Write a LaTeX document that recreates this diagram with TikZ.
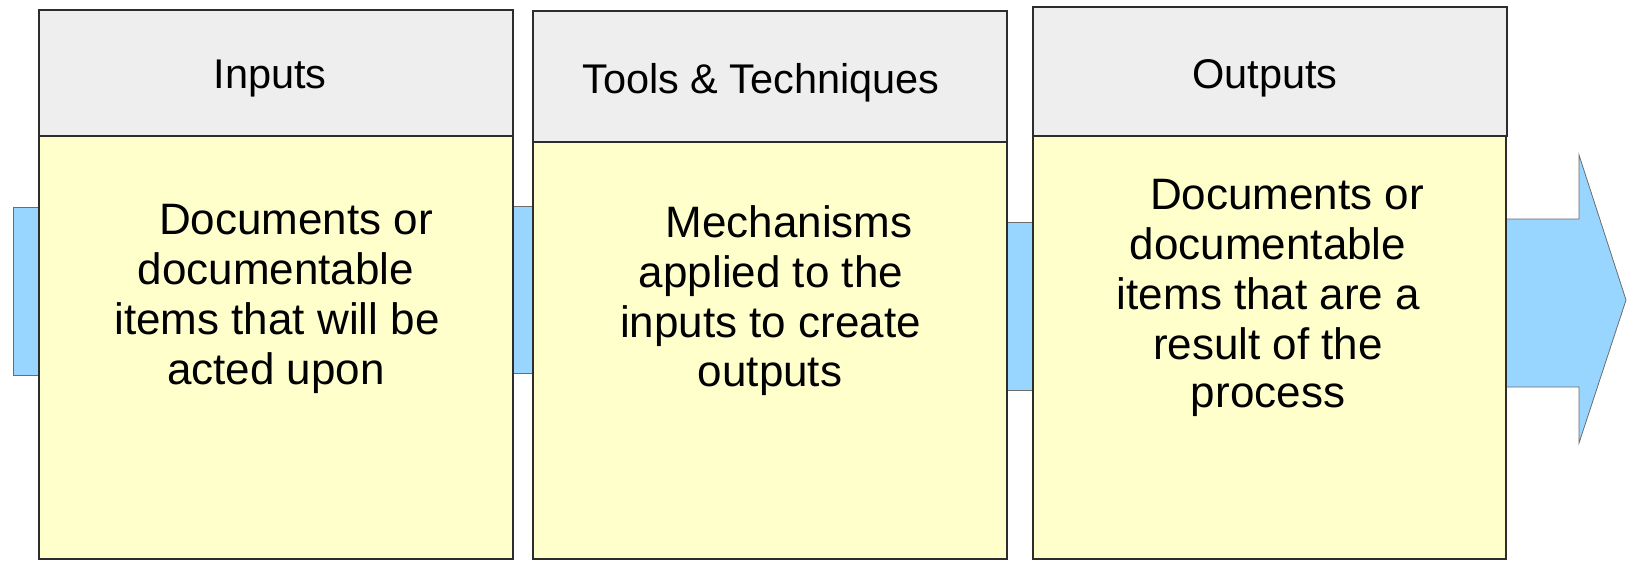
\documentclass[tikz,border=0pt]{standalone}
\usepackage{fontspec}
\setmainfont{Liberation Sans}
\definecolor{hdr}{RGB}{238,238,238}
\definecolor{bdy}{RGB}{255,255,204}
\definecolor{flow}{RGB}{153,214,255}
\definecolor{edge}{RGB}{45,45,45}
\begin{document}
\begin{tikzpicture}[x=1pt,y=-1pt,
  flowbar/.style={draw=edge!70,line width=0.8pt,fill=flow},
  hdrbox/.style={draw=edge,line width=1.2pt,fill=hdr},
  bodybox/.style={draw=edge,line width=1.2pt,fill=bdy},
  hdrtxt/.style={anchor=base,inner sep=0pt,font=\fontsize{41.5}{48}\selectfont},
  bodytxt/.style={anchor=base,inner sep=0pt,font=\fontsize{44}{50}\selectfont}]
\useasboundingbox (0,0) rectangle (1627,560);
% flow bars
\path[flowbar] (13,207) rectangle (60,375);
\path[flowbar] (490,206) rectangle (560,373);
\path[flowbar] (990,222) rectangle (1060,390);
\path[flowbar] (1490,219) -- (1579,219) -- (1579,155) -- (1626,300) -- (1579,443) -- (1579,387) -- (1490,387) -- cycle;
% boxes
\path[hdrbox] (39,10) rectangle (513,136);
\path[bodybox] (39,136) rectangle (513,559);
\path[hdrbox] (533,11) rectangle (1007,142);
\path[bodybox] (533,142) rectangle (1007,559);
\path[hdrbox] (1033,7) rectangle (1507,136);
\path[bodybox] (1033,136) rectangle (1506,559);
% header texts
\node[hdrtxt] (h1) at (270,88.6) {Inputs};
\node[hdrtxt] (h2) at (761,93.6) {Tools \& Techniques};
\node[hdrtxt] (h3) at (1265,88.6) {Outputs};
% body 1
\node[bodytxt] (a1) at (296,234) {Documents or};
\node[bodytxt] (a2) at (276,284) {documentable};
\node[bodytxt] (a3) at (277,334) {items that will be};
\node[bodytxt] (a4) at (276,384) {acted upon};
% body 2
\node[bodytxt] (b1) at (789,237) {Mechanisms};
\node[bodytxt] (b2) at (771,287.5) {applied to the};
\node[bodytxt] (b3) at (770.5,337.5) {inputs to create};
\node[bodytxt] (b4) at (770,386) {outputs};
% body 3
\node[bodytxt] (c1) at (1287,209) {Documents or};
\node[bodytxt] (c2) at (1268,259) {documentable};
\node[bodytxt] (c3) at (1268.5,309) {items that are a};
\node[bodytxt] (c4) at (1268,359) {result of the};
\node[bodytxt] (c5) at (1268,407) {process};
\end{tikzpicture}
\end{document}
